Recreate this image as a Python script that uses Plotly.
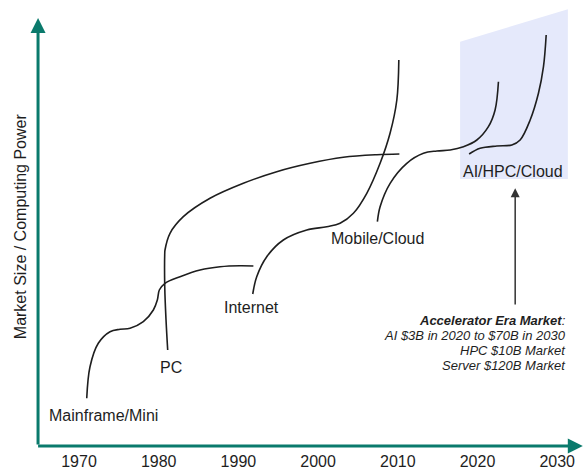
import plotly.graph_objects as go

# ---- data (year, level) ----
mainframe_x = [1970.97, 1971.38, 1972.42, 1973.89, 1975.15, 1976.40, 1978.07, 1979.33, 1979.83, 1980.08, 1980.79, 1982.68, 1985.19, 1987.70, 1990.21, 1991.88]
mainframe_y = [47.7, 79.3, 102.7, 114.3, 116.7, 117.7, 124.3, 136, 146, 156, 162.7, 169.3, 176, 179.3, 180.3, 180]

pc_x = [1981.13, 1980.92, 1980.76, 1980.76, 1980.79, 1981.42, 1983.09, 1986.44, 1990.62, 1994.81, 1998.99, 2003.17, 2007.37, 2010.20]
pc_y = [96, 126, 159.3, 192.7, 196, 212.7, 229.3, 247.7, 262.7, 274.3, 282.7, 288.7, 291.3, 292]

internet_x = [1991.80, 1992.30, 1993.56, 1995.64, 1998.58, 2001.09, 2002.76, 2004.43, 2006.11, 2007.78, 2009.03, 2009.88, 2010.13]
internet_y = [152, 169.3, 189.3, 206, 216, 219.3, 222.7, 232.7, 252.7, 282.7, 312.7, 346, 386]

mobile_x = [2007.44, 2007.78, 2009.04, 2011.13, 2013.22, 2014.90, 2016.57, 2018.24, 2019.92, 2021.37, 2022.21, 2022.63]
mobile_y = [224.3, 239.3, 262.7, 282.7, 292.7, 295, 296, 299.3, 306, 319.3, 336, 364.3]

ai_x = [2018.95, 2020.33, 2022.43, 2024.31, 2025.35, 2026.61, 2027.65, 2028.28, 2028.62]
ai_y = [292, 297.7, 300, 301, 306, 326, 352.7, 379.3, 411]

era_labels = ["Mainframe/Mini", "PC", "Internet", "Mobile/Cloud", "AI/HPC/Cloud"]

accel_zone_x = [2017.82, 2031.34, 2031.34, 2017.82]
accel_zone_y = [404.3, 436.7, 267, 267]

tick_years = [1970, 1980, 1990, 2000, 2010, 2020, 2030]

note_lines = ["<b>Accelerator Era Market</b>:",
              "AI $3B in 2020 to $70B in 2030",
              "HPC $10B Market",
              "Server $120B Market"]
note_arrow_year = 2024.73
note_arrow_levels = [140, 257.7]

X_RANGE = [1964.73, 2033.24]
Y_RANGE = [0, 446]
TEAL = "#0a7a6c"
INK = "#1e1e1e"
FONT = "Liberation Sans, Arial, sans-serif"

fig = go.Figure()

fig.add_trace(go.Scatter(x=accel_zone_x, y=accel_zone_y, fill="toself",
                         fillcolor="#e5e9fb", line=dict(width=0),
                         mode="lines", hoverinfo="skip", showlegend=False))

curves = [(mainframe_x, mainframe_y), (pc_x, pc_y), (internet_x, internet_y),
          (mobile_x, mobile_y), (ai_x, ai_y)]
for cx, cy in curves:
    fig.add_trace(go.Scatter(x=cx, y=cy, mode="lines",
                             line=dict(color=INK, width=1.6, shape="spline", smoothing=1.0),
                             showlegend=False, hoverinfo="skip"))

annotations = []
# era labels below each curve's start
label_shift = [(17, -17), (3, -17), (-1, -13), (0, -17), (44, -17)]
for (cx, cy), name, (dx, dy) in zip(curves, era_labels, label_shift):
    annotations.append(dict(x=cx[0], y=cy[0], xref="x", yref="y", text=name,
                            showarrow=False, xshift=dx, yshift=dy,
                            font=dict(family=FONT, size=16, color=INK)))

# axes arrows
annotations.append(dict(x=X_RANGE[0] + 0.13, y=428, ax=X_RANGE[0] + 0.13, ay=0,
                        xref="x", yref="y", axref="x", ayref="y", text="",
                        showarrow=True, arrowhead=2, arrowsize=1, arrowwidth=3,
                        arrowcolor=TEAL, standoff=0, startstandoff=0))
annotations.append(dict(x=X_RANGE[1] - 0.02, y=0, ax=X_RANGE[0] - 0.05, ay=0,
                        xref="x", yref="y", axref="x", ayref="y", text="",
                        showarrow=True, arrowhead=2, arrowsize=1, arrowwidth=3,
                        arrowcolor=TEAL, standoff=0, startstandoff=0))

# note arrow
annotations.append(dict(x=note_arrow_year, y=note_arrow_levels[1], ax=note_arrow_year,
                        ay=note_arrow_levels[0], xref="x", yref="y", axref="x", ayref="y",
                        text="", showarrow=True, arrowhead=2, arrowsize=1.2, arrowwidth=1.5,
                        arrowcolor="#333333", standoff=0))

# note text lines
for i, line in enumerate(note_lines):
    annotations.append(dict(x=2031.0, y=note_arrow_levels[0], xref="x", yref="y",
                            text="<i>" + line + "</i>", showarrow=False,
                            xanchor="right", yanchor="middle",
                            xshift=3, yshift=-14 - 15 * i,
                            font=dict(family=FONT, size=13, color=INK)))

# y axis title
annotations.append(dict(x=-0.03, y=0.492, xref="paper", yref="paper",
                        xanchor="center", yanchor="middle",
                        text="Market Size / Computing Power", textangle=-90,
                        showarrow=False, font=dict(family=FONT, size=16, color=INK)))

fig.update_layout(
    width=586, height=471,
    margin=dict(l=37, r=3, t=0, b=25),
    paper_bgcolor="white", plot_bgcolor="white",
    xaxis=dict(range=X_RANGE, tickvals=tick_years, ticktext=[str(t) for t in tick_years],
               showline=False, showgrid=False, zeroline=False, ticks="",
               ticklabelstandoff=4,
               tickfont=dict(family=FONT, size=16, color=INK), fixedrange=True),
    yaxis=dict(range=Y_RANGE, showline=False, showgrid=False, zeroline=False,
               showticklabels=False, ticks="", fixedrange=True),
    annotations=annotations,
    showlegend=False,
)

fig.write_html("out.html", config={"displayModeBar": False},
               post_script="document.body.style.margin='0';document.body.style.overflow='hidden';")
